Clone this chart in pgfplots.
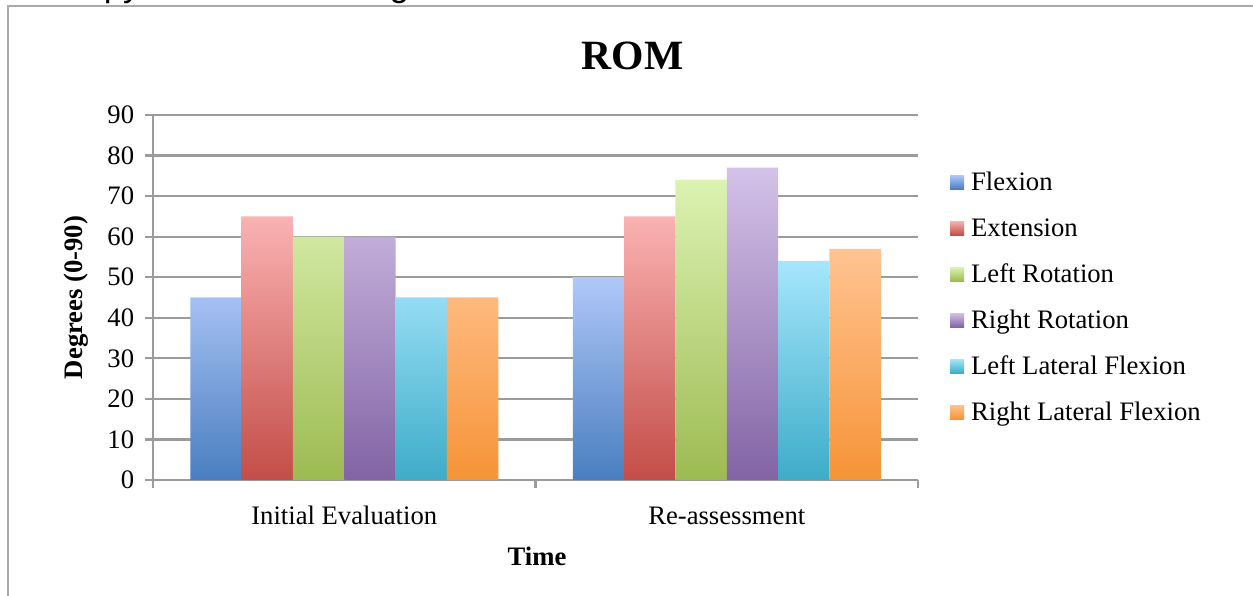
\documentclass[border=0pt]{standalone}
\usepackage{pgfplots}
\pgfplotsset{compat=1.18}
\usepackage{fontspec}
\setmainfont{Liberation Serif}
\newfontfamily\sansfont{Liberation Sans}

\definecolor{gridgray}{RGB}{155,155,155}
\definecolor{framegray}{RGB}{170,170,170}
\definecolor{flexT}{RGB}{175,200,248}
\definecolor{flexB}{RGB}{74,126,192}
\definecolor{extT}{RGB}{250,178,178}
\definecolor{extB}{RGB}{195,77,72}
\definecolor{lrotT}{RGB}{220,242,178}
\definecolor{lrotB}{RGB}{157,187,82}
\definecolor{rrotT}{RGB}{212,194,232}
\definecolor{rrotB}{RGB}{130,100,165}
\definecolor{llfT}{RGB}{165,230,252}
\definecolor{llfB}{RGB}{62,172,200}
\definecolor{rlfT}{RGB}{255,195,145}
\definecolor{rlfB}{RGB}{246,148,55}

\begin{document}
\begin{tikzpicture}
\path[use as bounding box, clip] (0,0) rectangle (751.8pt,357.6pt);
\draw[framegray, line width=1.2pt] (4.8pt,-20pt) -- (4.8pt,354pt) -- (780pt,354pt);
\node[anchor=base west, inner sep=0pt, font=\sansfont\fontsize{21}{25}\selectfont] at (7.2pt,359.7pt) {Therapy Assessment Log};

\begin{axis}[
  at={(91.8pt,69.6pt)}, anchor=south west,
  scale only axis, width=459pt, height=219pt,
  xmin=-0.5, xmax=1.5, ymin=0, ymax=90,
  ytick={0,10,...,90},
  xtick={-0.5,0.5,1.5}, xticklabels={},
  extra x ticks={0,1},
  extra x tick labels={Initial Evaluation, Re-assessment},
  extra x tick style={major tick length=0pt, grid=none},
  xticklabel style={anchor=base, yshift=-27pt},
  tick align=outside,
  major tick length=4.8pt,
  tick style={draw=gridgray, line width=1.3pt},
  axis x line*=bottom, axis y line*=left,
  axis line style={draw=gridgray, line width=1.3pt},
  ymajorgrids,
  major grid style={draw=gridgray, line width=1.3pt},
  tick label style={font=\fontsize{16}{19}\selectfont},
  /pgf/number format/assume math mode=true,
  yticklabel style={xshift=-3pt},
  title={ROM},
  title style={at={(0.627,1)}, anchor=base, yshift=21pt, font=\bfseries\fontsize{25}{30}\selectfont},
  ylabel={Degrees (0-90)},
  ylabel style={at={(-0.100,0.5)}, anchor=center, font=\bfseries\fontsize{16}{19}\selectfont},
  xlabel={Time},
  xlabel style={at={(0.502,0)}, anchor=base, yshift=-51.6pt, font=\bfseries\fontsize{16}{19}\selectfont},
  ybar=0pt, bar width=30.8pt,
  legend image code/.code={\path[#1, draw=none] (0pt,-3pt) rectangle (8.4pt,5.4pt);},
  legend cell align=left,
  legend style={at={(1.042,0.844)}, anchor=north west, draw=none, fill=none,
    inner sep=0pt, outer sep=0pt, row sep=13.1pt, column sep=4.2pt,
    nodes={inner sep=0pt, text height=11pt, text depth=3.5pt, font=\fontsize{16}{19}\selectfont}},
]
\addplot[draw=none, top color=flexT, bottom color=flexB] coordinates {(0,45) (1,50)};
\addplot[draw=none, top color=extT, bottom color=extB] coordinates {(0,65) (1,65)};
\addplot[draw=none, top color=lrotT, bottom color=lrotB] coordinates {(0,60) (1,74)};
\addplot[draw=none, top color=rrotT, bottom color=rrotB] coordinates {(0,60) (1,77)};
\addplot[draw=none, top color=llfT, bottom color=llfB] coordinates {(0,45) (1,54)};
\addplot[draw=none, top color=rlfT, bottom color=rlfB] coordinates {(0,45) (1,57)};
\legend{Flexion, Extension, Left Rotation, Right Rotation, Left Lateral Flexion, Right Lateral Flexion}
\end{axis}
\end{tikzpicture}
\end{document}
